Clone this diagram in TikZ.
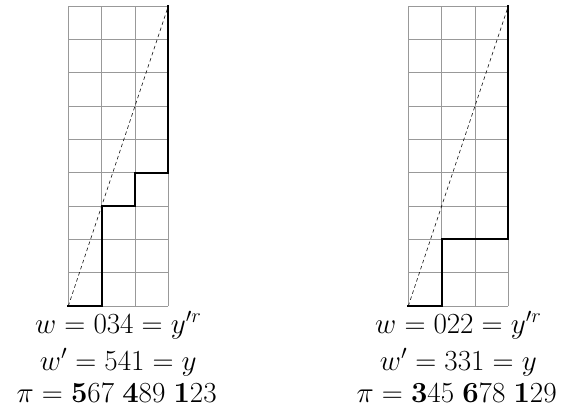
\documentclass[tikz,border=0pt]{standalone}
\usepackage{amsmath}
\tikzset{
  gridline/.style={gray!80, line width=0.6pt},
  pathline/.style={black, line width=1.6pt, line cap=rect},
  diag/.style={black, line width=0.5pt, dash pattern=on 3pt off 2.5pt},
  lbl/.style={anchor=base, inner sep=0pt, font=\fontsize{23}{28}\selectfont}
}
\begin{document}
\begin{tikzpicture}
\useasboundingbox (-2.05,-3.03) rectangle (14.78,9.18);
% left diagram
\begin{scope}
  \draw[gridline] (0,0) grid (3,9);
  \draw[diag] (0,0) -- (3,9);
  \draw[pathline] (0,0) -- (1,0) -- (1,3) -- (2,3) -- (2,4) -- (3,4) -- (3,9);
  \node[lbl] (l1) at (1.5,-0.81) {$w=034=y'^r$};
  \node[lbl] (l2) at (1.5,-1.92) {$w'=541=y$};
  \node[lbl] (l3) at (1.45,-2.88) {$\pi=\mathbf{5}67\ \mathbf{4}89\ \mathbf{1}23$};
\end{scope}
% right diagram
\begin{scope}[xshift=10.2cm]
  \draw[gridline] (0,0) grid (3,9);
  \draw[diag] (0,0) -- (3,9);
  \draw[pathline] (0,0) -- (1,0) -- (1,2) -- (3,2) -- (3,9);
  \node[lbl] (r1) at (1.5,-0.81) {$w=022=y'^r$};
  \node[lbl] (r2) at (1.5,-1.92) {$w'=331=y$};
  \node[lbl] (r3) at (1.45,-2.88) {$\pi=\mathbf{3}45\ \mathbf{6}78\ \mathbf{1}29$};
\end{scope}
\end{tikzpicture}
\end{document}
